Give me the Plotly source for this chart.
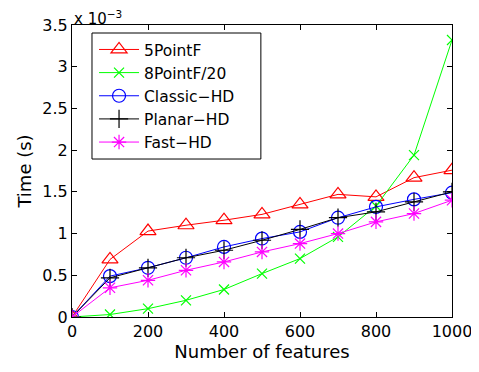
import plotly.graph_objects as go

features = [0, 100, 200, 300, 400, 500, 600, 700, 800, 900, 1000]
# times in units of 1e-3 s
five_point = [0, 0.69, 1.03, 1.10, 1.16, 1.23, 1.35, 1.47, 1.44, 1.67, 1.76]
eight_point_20 = [0, 0.03, 0.10, 0.20, 0.33, 0.52, 0.70, 0.96, 1.33, 1.94, 3.32]
classic_hd = [0, 0.49, 0.59, 0.71, 0.84, 0.94, 1.02, 1.19, 1.32, 1.41, 1.49]
planar_hd = [0, 0.47, 0.59, 0.71, 0.80, 0.92, 1.05, 1.19, 1.26, 1.38, 1.50]
fast_hd = [0, 0.35, 0.44, 0.56, 0.66, 0.78, 0.88, 1.00, 1.14, 1.24, 1.40]

series = [
    ("5PointF", five_point, "#FF0000", "triangle-up-open", 14),
    ("8PointF/20", eight_point_20, "#00FF00", "x-thin-open", 10),
    ("Classic\u2212HD", classic_hd, "#0000FF", "circle-open", 13),
    ("Planar\u2212HD", planar_hd, "#000000", "cross-thin-open", 13),
    ("Fast\u2212HD", fast_hd, "#FF00FF", "asterisk-open", 12),
]

fig = go.Figure()
for name, vals, color, sym, size in series:
    fig.add_trace(go.Scatter(
        x=features, y=vals, name=name, mode="lines+markers",
        line=dict(color=color, width=1),
        marker=dict(symbol=sym, size=size, color=color, line=dict(color=color, width=1.2)),
    ))

font = "DejaVu Sans, sans-serif"
fig.update_layout(
    width=479, height=372,
    margin=dict(l=64, r=35, t=17, b=63),
    paper_bgcolor="white", plot_bgcolor="white",
    font=dict(family=font, size=16, color="black"),
    showlegend=True,
    legend=dict(
        x=0.058, y=0.973, xanchor="left", yanchor="top",
        bgcolor="rgba(0,0,0,0)", borderwidth=0,
        font=dict(size=15.5, family=font),
        tracegroupgap=0, itemwidth=40,
    ),
    shapes=[dict(
        type="rect", xref="paper", yref="paper", layer="above",
        x0=0.0526, x1=0.497, y0=0.541, y1=0.9726,
        fillcolor="white", line=dict(color="black", width=1),
    )],
    xaxis=dict(
        range=[0, 1000], tickvals=[0, 200, 400, 600, 800, 1000],
        ticks="inside", ticklen=5, tickcolor="black",
        showline=True, linecolor="black", linewidth=1, mirror="ticks",
        showgrid=False, zeroline=False, automargin=False,
        tickfont=dict(size=16),
        title=dict(text="Number of features", font=dict(size=18), standoff=3),
    ),
    yaxis=dict(
        range=[0, 3.5], tickvals=[0, 0.5, 1, 1.5, 2, 2.5, 3, 3.5],
        ticktext=["0", "0.5", "1", "1.5", "2", "2.5", "3", "3.5"],
        ticks="inside", ticklen=5, tickcolor="black",
        showline=True, linecolor="black", linewidth=1, mirror="ticks",
        showgrid=False, zeroline=False, automargin=False,
        tickfont=dict(size=16),
        title=dict(text="Time (s)", font=dict(size=18), standoff=6),
    ),
    annotations=[dict(
        x=0, y=1, xref="paper", yref="paper", xanchor="left", yanchor="bottom",
        text="x 10<sup>\u22123</sup>", showarrow=False, font=dict(size=15), yshift=-5,
    )],
)

fig.write_html("out.html")
